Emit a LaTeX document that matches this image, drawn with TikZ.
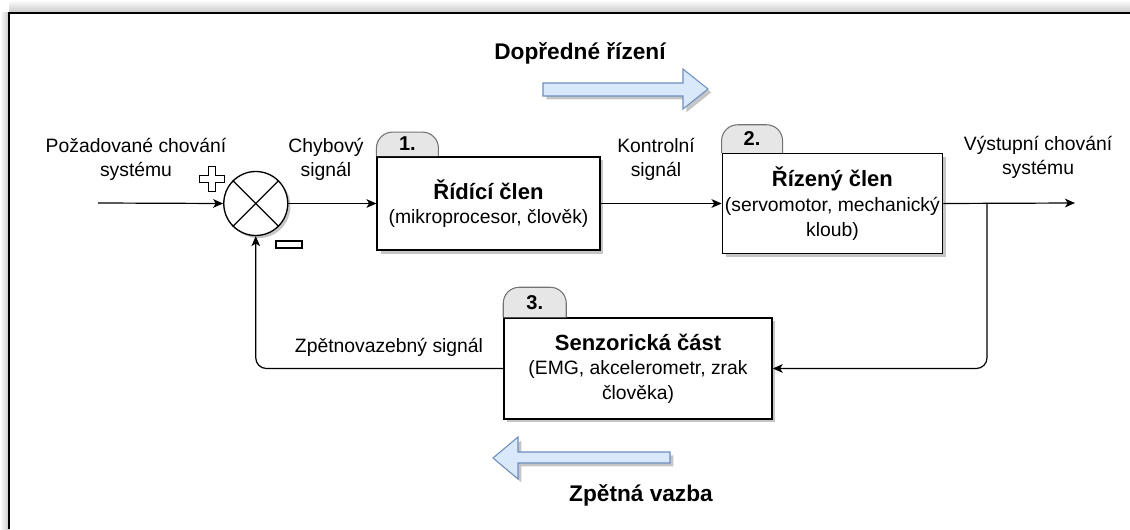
\documentclass[tikz,border=0pt]{standalone}
\usepackage{fontspec}
\setmainfont{Liberation Sans}
\usepackage{tikz}
\usetikzlibrary{positioning, calc, shadows}
\usetikzlibrary{arrows.meta}
\tikzset{>={Stealth[length=7.5pt,width=6.5pt,inset=2pt]}}
\definecolor{tabgray}{HTML}{E6E6E6}
\definecolor{arrowfill}{HTML}{DAE8FC}
\definecolor{arrowline}{HTML}{6C8EBF}

\begin{document}
\begin{tikzpicture}[x=0.75pt, y=0.75pt, line width=0.9pt, block/.style={rectangle, draw=black, fill=white, line width=1.1pt, align=center, inner sep=2pt, font=\fontsize{14.5}{18.5}\selectfont, drop shadow={shadow xshift=2.5pt, shadow yshift=-2.5pt, fill=black!45, opacity=0.5}}, sumnode/.style={circle, draw=black, fill=white, line width=1pt, minimum size=48pt, inner sep=0pt, drop shadow={shadow xshift=2pt, shadow yshift=-2pt, fill=black!45, opacity=0.5}}, tab/.style={draw=black!55, fill=tabgray, line width=0.8pt}, tabnum/.style={font=\fontsize{15}{17}\selectfont\bfseries, inner sep=0pt}, lbl/.style={align=center, font=\fontsize{14.5}{18}\selectfont, inner sep=1pt}, headline/.style={font=\fontsize{17}{20}\selectfont\bfseries, inner sep=1pt}, bigarrow/.style={fill=arrowfill, draw=arrowline, line width=0.8pt, drop shadow={shadow xshift=2.5pt, shadow yshift=-2.5pt, fill=black!45, opacity=0.5}}, sign/.style={draw=black, fill=white, line width=0.9pt}]

    \useasboundingbox (0,0) rectangle (1130,529);

    %Frame
    \shade[top color=white, bottom color=black!22] (9,516) rectangle (1130,529);
    \shade[left color=white, right color=black!22] (0,0) rectangle (9,516);
    \draw[line width=1.5pt] (9,0) -- (9,516) -- (1130,516);

    %Nodes
    \node[block, minimum width=167pt, minimum height=70pt](ctrl) at (488.5,325.5){{\fontsize{16.5}{19}\selectfont\bfseries Řídící člen}\\(mikroprocesor, člověk)};
    \node[block, minimum width=162pt, minimum height=75pt](act)[right=90.75pt of ctrl]{{\fontsize{16.5}{19}\selectfont\bfseries Řízený člen}\\(servomotor, mechanický\\kloub)};
    \node[block, minimum width=201pt, minimum height=75.75pt](sens) at (638,160.5){{\fontsize{16.5}{19}\selectfont\bfseries Senzorická část}\\(EMG, akcelerometr, zrak\\člověka)};
    \node[sumnode](sum)[left=66pt of ctrl]{};
    \draw (sum.north west) -- (sum.south east);
    \draw (sum.north east) -- (sum.south west);
    \coordinate (in) at (98,326);
    \coordinate (out) at (1075,326);
    \coordinate (split) at (987,326);

    %Tabs
    \filldraw[tab] (ctrl.north west) [rounded corners=12pt] -- ++(0,24) -- ++(62,0) [sharp corners] -- ++(0,-24);
    \node[tabnum](tab1) at ($(ctrl.north west)+(31,12)$){1.};
    \filldraw[tab] (act.north west) [rounded corners=12pt] -- ++(0,28) -- ++(61,0) [sharp corners] -- ++(0,-28);
    \node[tabnum](tab2) at ($(act.north west)+(30.5,14)$){2.};
    \filldraw[tab] (sens.north west) [rounded corners=12pt] -- ++(0,30) -- ++(63,0) [sharp corners] -- ++(0,-30);
    \node[tabnum](tab3) at ($(sens.north west)+(31.5,15)$){3.};

    %Signs
    \draw[sign, shift={(212,350)}] (-3.5,12.5) -- (3.5,12.5) -- (3.5,3.5) -- (12.5,3.5) -- (12.5,-3.5) -- (3.5,-3.5) -- (3.5,-12.5) -- (-3.5,-12.5) -- (-3.5,-3.5) -- (-12.5,-3.5) -- (-12.5,3.5) -- (-3.5,3.5) -- cycle;
    \draw[sign] (276,281) rectangle (302,288);

    %Labels
    \node[lbl](reflbl) at (136,370){Požadované chování\\systému};
    \node[lbl](errlbl) at (326,370){Chybový\\signál};
    \node[lbl](ctllbl) at (656,370){Kontrolní\\signál};
    \node[lbl](outlbl) at (1038,372){Výstupní chování\\systému};
    \node[lbl](fblbl) at (389,182){Zpětnovazebný signál};
    \node[headline](fwd) at (580,476){Dopředné řízení};
    \node[headline](back) at (641,34){Zpětná vazba};

    %Big arrows
    \filldraw[bigarrow] (543,446) -- (683,446) -- (683,460) -- (708,440) -- (683,420) -- (683,433) -- (543,433) -- cycle;
    \filldraw[bigarrow] (670,77) -- (518,77) -- (518,92) -- (493,71) -- (518,50) -- (518,66) -- (670,66) -- cycle;

    %Lines
    \draw[->] (in) -- (sum.west);
    \draw[->] (sum.east) -- (ctrl.west);
    \draw[->] (ctrl.east) -- (act.west);
    \draw[->] (act.east) -- (out);
    \draw[->, rounded corners=8pt] (split) |- (sens.east);
    \draw[->, rounded corners=8pt] (sens.west) -| (sum.south);

\end{tikzpicture}
\end{document}
